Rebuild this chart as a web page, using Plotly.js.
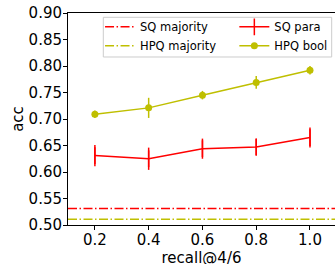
<!DOCTYPE html>
<html>
<head>
<meta charset="utf-8">
<script src="https://cdn.plot.ly/plotly-3.0.1.min.js"></script>
<style>
  html, body { margin: 0; padding: 0; background: #fff; overflow: hidden; }
  #chart { width: 335px; height: 272px; }
</style>
</head>
<body>
<div id="chart"></div>
<script>
// Data
const recall = [0.2, 0.4, 0.6, 0.8, 1.0];
const sqPara = [0.631, 0.625, 0.644, 0.647, 0.665];
const sqParaErr = [0.020, 0.021, 0.019, 0.016, 0.019];
const hpqBool = [0.709, 0.721, 0.745, 0.769, 0.792];
const hpqBoolErr = [0.007, 0.019, 0.008, 0.012, 0.008];
const sqMajority = 0.531;
const hpqMajority = 0.511;
const xLimits = [0.1, 1.093];
const yTicks = [0.50, 0.55, 0.60, 0.65, 0.70, 0.75, 0.80, 0.85, 0.90];

const RED = '#ff0000';
const YEL = '#bfbf00';
const DASHDOT = '9px,2.5px,1.5px,2.5px';
const FONT = 'DejaVu Sans';

const traces = [
  {
    name: 'SQ majority', legend: 'legend',
    x: xLimits, y: [sqMajority, sqMajority],
    mode: 'lines', line: {color: RED, width: 1.5, dash: DASHDOT},
    hoverinfo: 'skip'
  },
  {
    name: 'HPQ majority', legend: 'legend',
    x: xLimits, y: [hpqMajority, hpqMajority],
    mode: 'lines', line: {color: YEL, width: 1.5, dash: DASHDOT},
    hoverinfo: 'skip'
  },
  {
    name: 'SQ para', legend: 'legend2',
    x: recall, y: sqPara,
    mode: 'lines+markers',
    line: {color: RED, width: 1.5},
    marker: {symbol: 'line-ns-open', size: 12, color: RED, line: {color: RED, width: 1.5}},
    error_y: {type: 'data', array: sqParaErr, width: 0, thickness: 1.5, color: RED}
  },
  {
    name: 'HPQ bool', legend: 'legend2',
    x: recall, y: hpqBool,
    mode: 'lines+markers',
    line: {color: YEL, width: 1.5},
    marker: {symbol: 'circle', size: 7, color: YEL},
    error_y: {type: 'data', array: hpqBoolErr, width: 0, thickness: 1.5, color: YEL}
  }
];

// plot area: 212 px tall, legend/frame positions as paper fractions
const legendCommon = {
  orientation: 'v', xanchor: 'left', yanchor: 'top', y: 1.003,
  font: {family: FONT, size: 11.5, color: '#000'},
  bgcolor: 'rgba(0,0,0,0)', borderwidth: 0, traceorder: 'normal'
};

const layout = {
  width: 335, height: 272,
  margin: {l: 68, r: 0, t: 13, b: 47, pad: 0},
  paper_bgcolor: '#fff', plot_bgcolor: '#fff',
  font: {family: FONT, color: '#000', size: 15},
  showlegend: true,
  legend: Object.assign({}, legendCommon, {x: 0.12}),
  legend2: Object.assign({}, legendCommon, {x: 0.623}),
  shapes: [{
    type: 'rect', xref: 'paper', yref: 'paper',
    x0: 0.1322, x1: 0.9876, y0: 0.7925, y1: 0.9797,
    line: {color: '#cccccc', width: 1},
    fillcolor: 'rgba(255,255,255,0.8)', layer: 'above'
  }],
  xaxis: {
    range: xLimits,
    tickvals: recall, tickformat: '.1f',
    showgrid: false, zeroline: false,
    showline: true, linecolor: '#000', linewidth: 1, mirror: true,
    ticks: 'outside', ticklen: 4, tickwidth: 1, tickcolor: '#000',
    ticklabelstandoff: -3,
    automargin: false,
    tickfont: {family: FONT, size: 15, color: '#000'},
    title: {text: 'recall@4/6', font: {family: FONT, size: 15, color: '#000'}, standoff: 1}
  },
  yaxis: {
    range: [0.5, 0.9],
    tickvals: yTicks, tickformat: '.2f',
    showgrid: false, zeroline: false,
    showline: true, linecolor: '#000', linewidth: 1, mirror: false,
    ticks: 'outside', ticklen: 4, tickwidth: 1, tickcolor: '#000',
    ticklabelstandoff: -2,
    tickfont: {family: FONT, size: 15, color: '#000'},
    title: {text: 'acc', font: {family: FONT, size: 15, color: '#000'}, standoff: 1}
  }
};

Plotly.newPlot('chart', traces, layout, {displayModeBar: false, staticPlot: true});
</script>
</body>
</html>
